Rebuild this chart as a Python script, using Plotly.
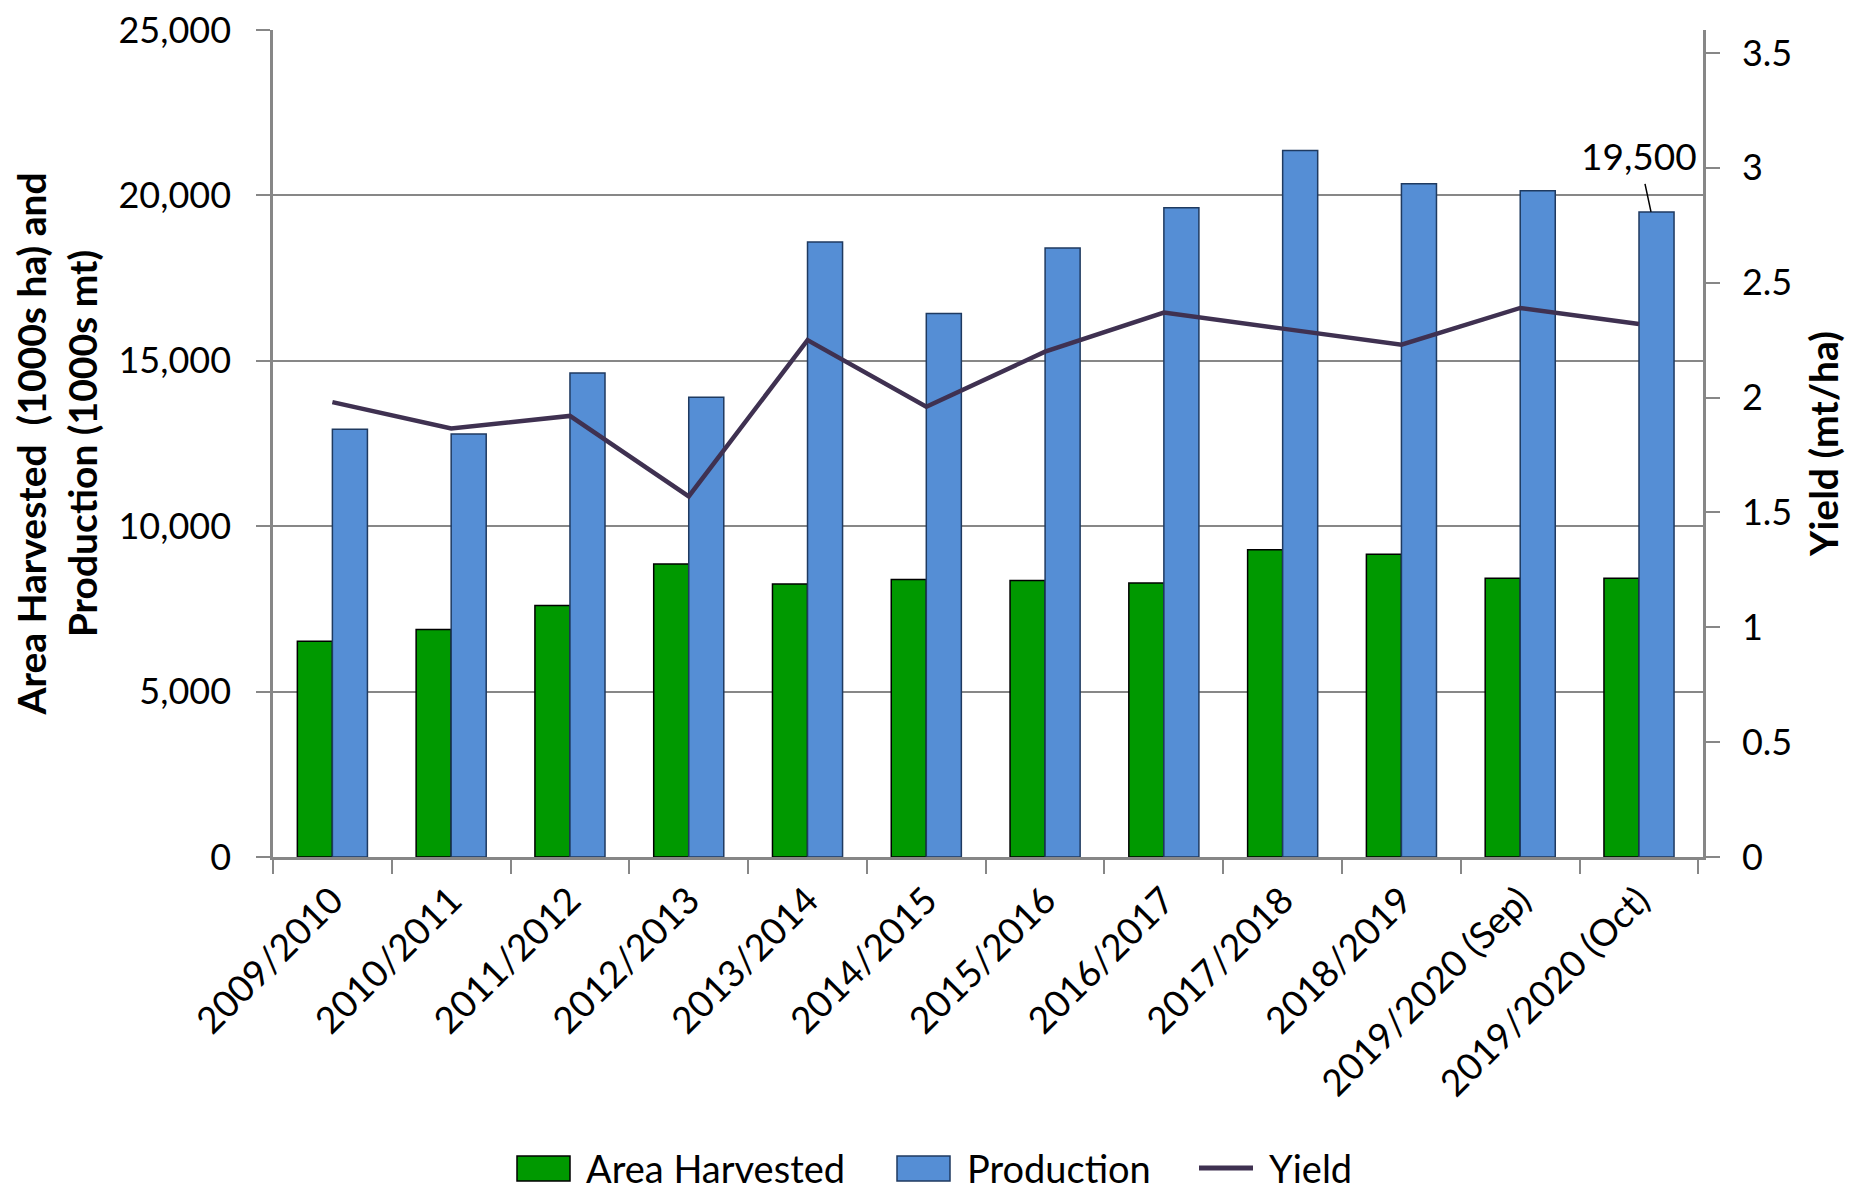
import plotly.graph_objects as go

categories = ["2009/2010", "2010/2011", "2011/2012", "2012/2013", "2013/2014",
              "2014/2015", "2015/2016", "2016/2017", "2017/2018", "2018/2019",
              "2019/2020 (Sep)", "2019/2020 (Oct)"]
area_harvested = [6520, 6880, 7600, 8860, 8250, 8390, 8360, 8285, 9290, 9150, 8430, 8430]
production = [12930, 12790, 14630, 13900, 18590, 16430, 18410, 19630, 21360, 20350, 20140, 19500]
yield_vals = [1.98, 1.865, 1.92, 1.57, 2.25, 1.96, 2.20, 2.37, 2.30, 2.23, 2.39, 2.32]
left_ticks = [0, 5000, 10000, 15000, 20000, 25000]
right_ticks = [0, 0.5, 1, 1.5, 2, 2.5, 3, 3.5]
series_names = ["Area Harvested", "Production", "Yield"]

FONT = "Lato"
GRAY = "#878787"
GREEN = "#009900"
BLUE = "#558ED5"
BLUE_EDGE = "#1F3A60"
LINE = "#3F3151"

# page layout (page pixels; the page body adds an 8px offset)
OFFX, OFFY = 8, 8
W, H = 1866, 1186
PL, PR, PT, PB = 273, 1703, 30, 857  # plot area in page pixels
ml = PL - OFFX
mt = PT - OFFY
mr = W - (PR - OFFX)
mb = H - (PB - OFFY)


def px(xp):
    return (xp - PL) / (PR - PL)


def py(yp):
    return (PB - yp) / (PB - PT)


fig = go.Figure()
fig.add_trace(go.Bar(x=categories, y=area_harvested, name=series_names[0],
                     marker=dict(color=GREEN, line=dict(color="#000000", width=1.5))))
fig.add_trace(go.Bar(x=categories, y=production, name=series_names[1],
                     marker=dict(color=BLUE, line=dict(color=BLUE_EDGE, width=1.5))))
fig.add_trace(go.Scatter(x=categories, y=yield_vals, name=series_names[2], yaxis="y2",
                         mode="lines", line=dict(color=LINE, width=4.5)))

fig.add_annotation(x=len(categories) - 1, y=production[-1], xref="x", yref="y",
                   text="19,500", showarrow=True, arrowhead=0, arrowwidth=1.5,
                   arrowcolor="#000000", ax=-12, ay=-56, xshift=12,
                   bgcolor="white", borderpad=5,
                   font=dict(family=FONT, size=37, color="black"))

# custom legend
leg_y0, leg_y1, leg_mid = 1156, 1181, 1168
fig.add_shape(type="rect", xref="paper", yref="paper",
              x0=px(517), x1=px(570), y0=py(leg_y1), y1=py(leg_y0),
              fillcolor=GREEN, line=dict(color="#000000", width=1.5))
fig.add_shape(type="rect", xref="paper", yref="paper",
              x0=px(897), x1=px(950), y0=py(leg_y1), y1=py(leg_y0),
              fillcolor=BLUE, line=dict(color=BLUE_EDGE, width=1.5))
fig.add_shape(type="line", xref="paper", yref="paper",
              x0=px(1199), x1=px(1253), y0=py(leg_mid), y1=py(leg_mid),
              line=dict(color=LINE, width=5))
for name, xl in zip(series_names, [584, 965, 1267]):
    fig.add_annotation(x=px(xl), y=py(leg_mid), xref="paper", yref="paper",
                       text=name, showarrow=False, xanchor="left", yanchor="middle",
                       font=dict(family=FONT, size=38, color="black"))

fig.update_layout(
    width=W, height=H,
    margin=dict(l=ml, r=mr, t=mt, b=mb, autoexpand=False),
    paper_bgcolor="white", plot_bgcolor="white",
    font=dict(family=FONT, size=37, color="black"),
    barmode="group", bargap=0.41, bargroupgap=0,
    showlegend=False,
    xaxis=dict(type="category", showline=True, linecolor=GRAY, linewidth=2.5,
               ticks="outside", tickson="boundaries", ticklen=14, tickcolor=GRAY,
               tickwidth=2, tickangle=-45, showgrid=False, ticklabelstandoff=4,
               automargin=False,
               tickfont=dict(family=FONT, size=37, color="black")),
    yaxis=dict(range=[0, 25000], tickvals=left_ticks, tickformat=",",
               showline=True, linecolor=GRAY, linewidth=2.5,
               ticks="outside", ticklen=14, tickcolor=GRAY, tickwidth=2,
               ticklabelstandoff=18, ticklabeloverflow="allow", automargin=False,
               showgrid=True, gridcolor=GRAY, gridwidth=2, zeroline=False,
               tickfont=dict(family=FONT, size=36, color="black"),
               title=dict(text="<b>Area Harvested  (1000s ha) and<br>Production (1000s mt)</b>",
                          font=dict(family=FONT, size=39, color="black"), standoff=14)),
    yaxis2=dict(overlaying="y", side="right", range=[0, 3.6], tickvals=right_ticks,
                showline=True, linecolor=GRAY, linewidth=2.5,
                ticks="outside", ticklen=14, tickcolor=GRAY, tickwidth=2,
                ticklabelstandoff=15, ticklabeloverflow="allow", automargin=False,
                showgrid=False, zeroline=False,
                tickfont=dict(family=FONT, size=36, color="black"),
                title=dict(text="<b>Yield (mt/ha)</b>",
                           font=dict(family=FONT, size=39, color="black"), standoff=20)),
)

fig.write_html("out.html")
